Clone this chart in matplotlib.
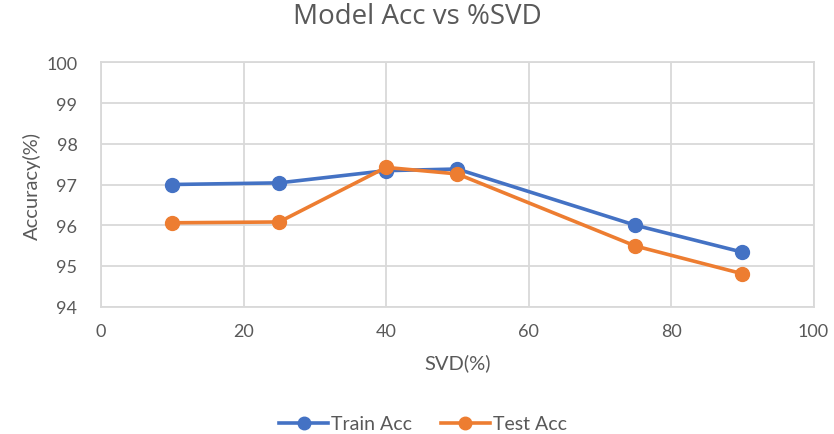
import matplotlib
matplotlib.use("Agg")
import matplotlib.pyplot as plt
from matplotlib.lines import Line2D

svd = [10, 25, 40, 50, 75, 90]
train_acc = [97.0, 97.04, 97.34, 97.38, 96.0, 95.34]
test_acc = [96.06, 96.08, 97.42, 97.26, 95.49, 94.81]
x_ticks = [0, 20, 40, 60, 80, 100]
y_ticks = [94, 95, 96, 97, 98, 99, 100]

BLUE = "#4472C4"
ORANGE = "#ED7D31"
TXT = "#595959"
GRID = "#D9D9D9"

fig = plt.figure(figsize=(8.34, 4.35), dpi=100)
ax = fig.add_axes([101/834, 1-307.7/435, (813.5-101)/834, (307.7-63.3)/435])

ax.plot(svd, train_acc, color=BLUE, lw=2.6, marker="o", ms=10, zorder=3, label="Train Acc")
ax.plot(svd, test_acc, color=ORANGE, lw=2.6, marker="o", ms=10, zorder=4, label="Test Acc")

ax.set_xlim(0, 100)
ax.set_ylim(94, 100)
ax.set_xticks(x_ticks)
ax.set_yticks(y_ticks)
ax.grid(True, color=GRID, lw=1.3)
ax.set_axisbelow(True)
for s in ax.spines.values():
    s.set_color(GRID)
    s.set_linewidth(1.3)
ax.tick_params(length=0, labelsize=13, labelcolor=TXT)
for lab in ax.get_xticklabels() + ax.get_yticklabels():
    lab.set_family("Lato")
ax.tick_params(axis="y", pad=17)
ax.tick_params(axis="x", pad=12)

ax.set_xlabel("SVD(%)", fontsize=14.5, color=TXT, family="Lato", labelpad=10)
ax.set_ylabel("Accuracy(%)", fontsize=14.5, color=TXT, family="Lato", labelpad=4)

fig.text(0.501, 1-17/435, "Model Acc vs %SVD", ha="center", va="center",
         fontsize=20, color=TXT, family="Open Sans")

handles = [Line2D([0], [0], color=BLUE, lw=2.6, marker="o", ms=9),
           Line2D([0], [0], color=ORANGE, lw=2.6, marker="o", ms=9)]
leg = fig.legend(handles, ["Train Acc", "Test Acc"], loc="center",
                 bbox_to_anchor=(423/834, 1-425/435), ncol=2, frameon=False,
                 prop={"family": "Lato", "size": 14}, handlelength=2.5,
                 columnspacing=1.5, handletextpad=0.15)
for t in leg.get_texts():
    t.set_color(TXT)

fig.savefig("out.png", dpi=100, facecolor="white")
